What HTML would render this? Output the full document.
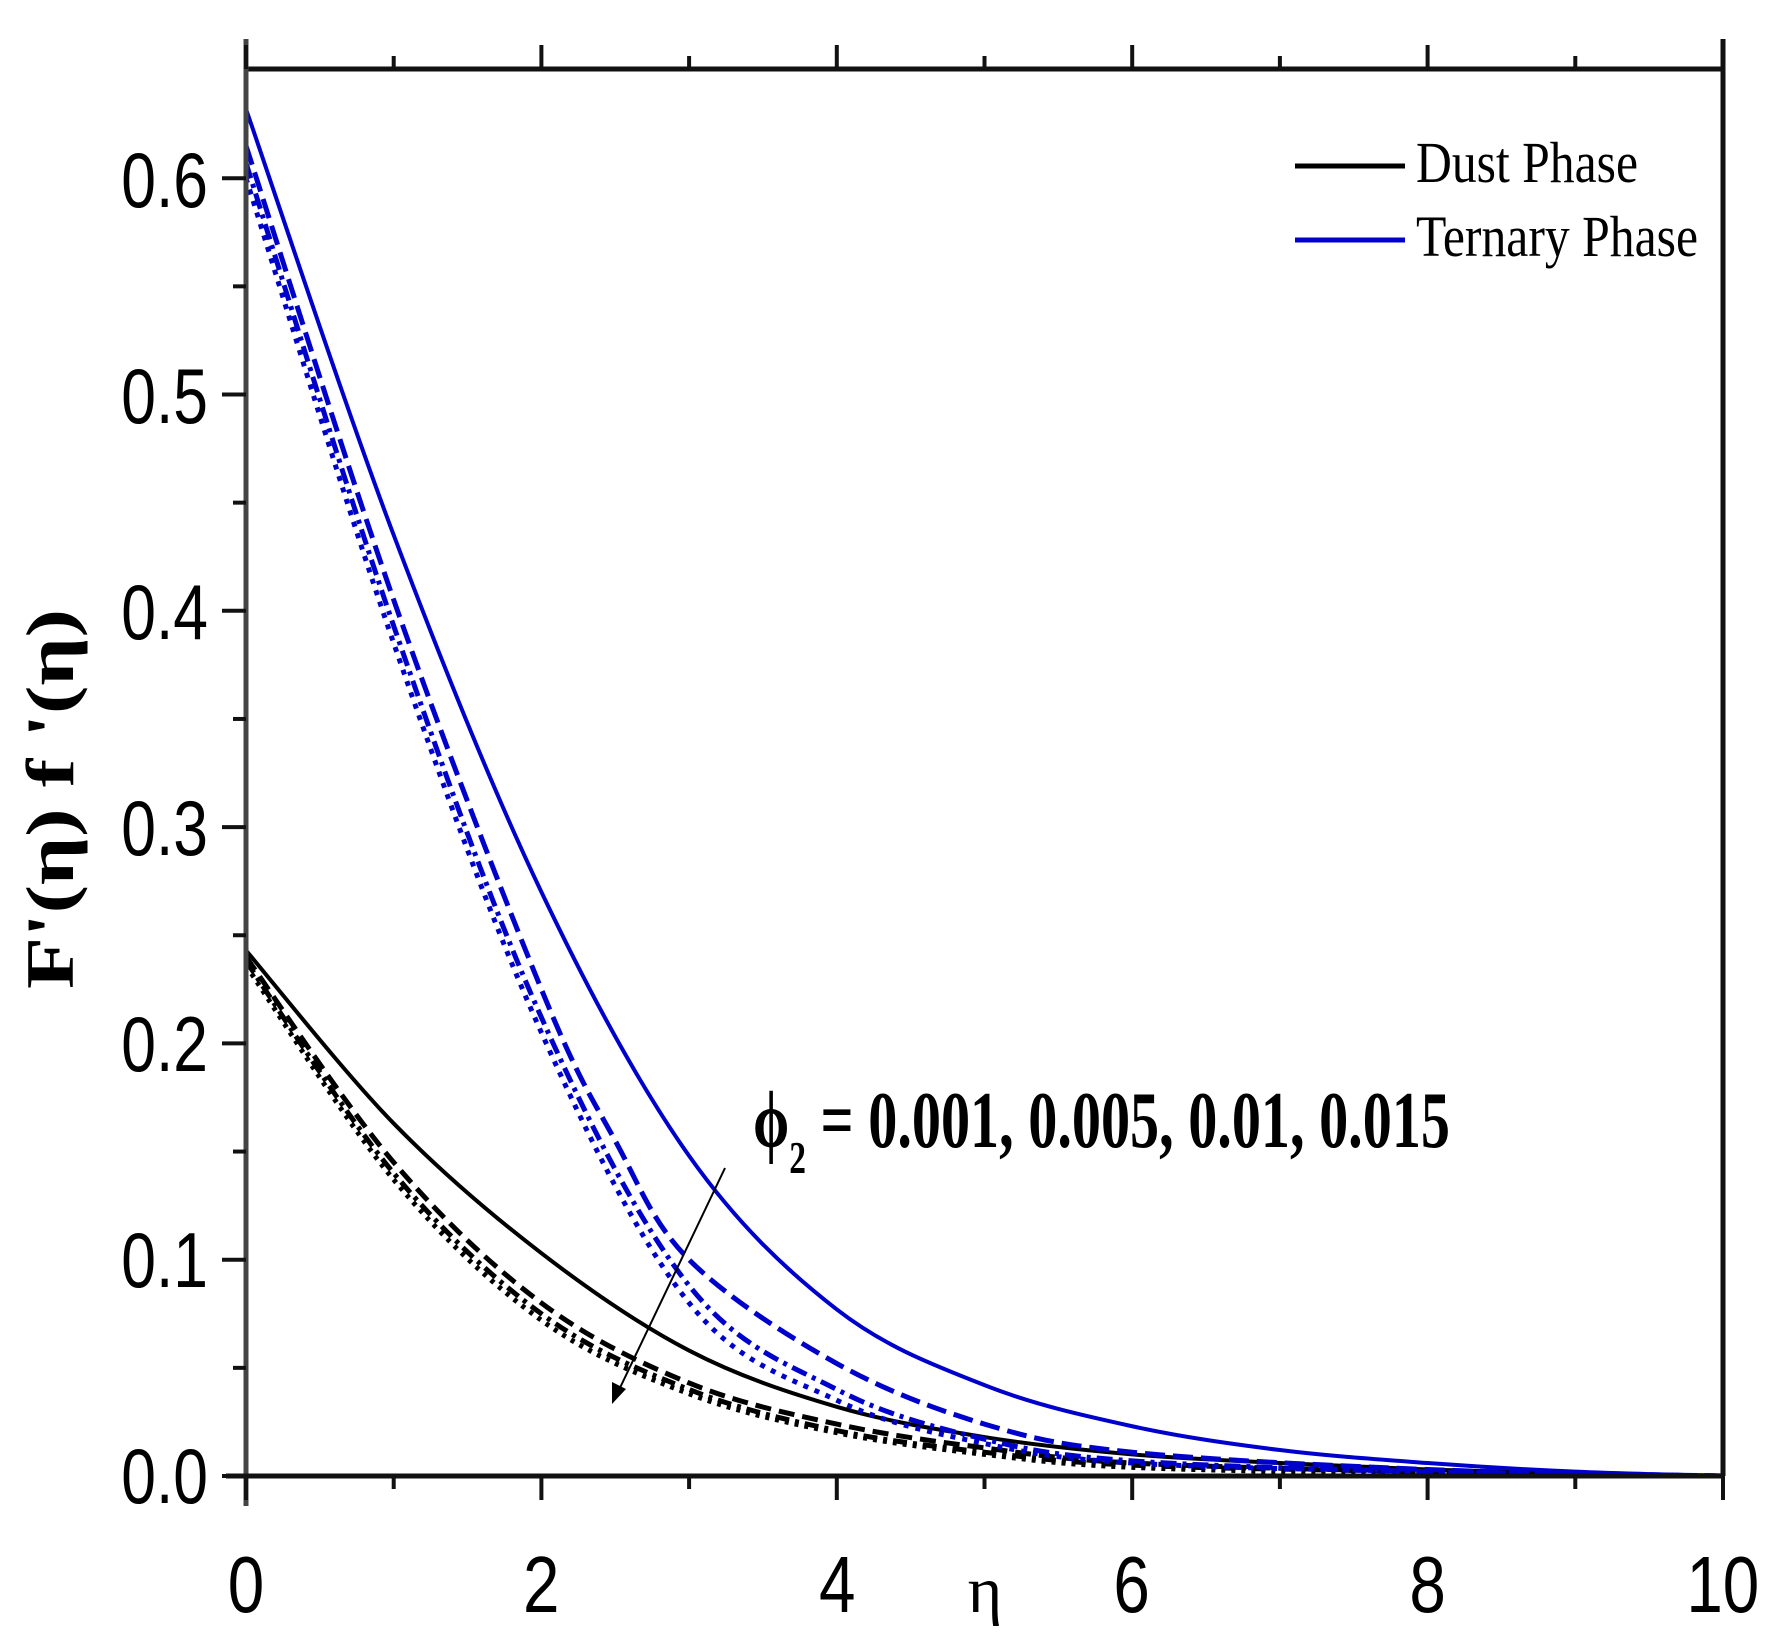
<!DOCTYPE html>
<html><head><meta charset="utf-8"><style>
html,body{margin:0;padding:0;background:#fff;}
svg{display:block;}
</style></head><body>
<svg id="s" width="1777" height="1640" xmlns="http://www.w3.org/2000/svg">
<rect width="1777" height="1640" fill="#fff"/>
<g id="curves" fill="none"></g>
<g stroke="#111" stroke-width="5" fill="none">
<line x1="246" y1="69" x2="1723" y2="69"/>
<line x1="1723" y1="39" x2="1723" y2="1476"/>
<line x1="246" y1="39" x2="246" y2="1506" stroke="#444"/>
<line x1="226" y1="1476" x2="1723" y2="1476"/>
</g>
<g id="ticks" stroke="#111" stroke-width="4"></g>
<g font-family="Liberation Sans, sans-serif" font-size="78" fill="#000" text-anchor="end" transform="scale(0.8,1)">
<text x="260" y="1503">0.0</text>
<text x="260" y="1287">0.1</text>
<text x="260" y="1071">0.2</text>
<text x="260" y="855">0.3</text>
<text x="260" y="639">0.4</text>
<text x="260" y="423">0.5</text>
<text x="260" y="207">0.6</text>
</g>
<g font-family="Liberation Sans, sans-serif" font-size="80" fill="#000" text-anchor="middle" transform="scale(0.82,1)">
<text x="300" y="1612">0</text>
<text x="660" y="1612">2</text>
<text x="1021" y="1612">4</text>
<text x="1380" y="1612">6</text>
<text x="1741" y="1612">8</text>
<text x="2101" y="1612">10</text>
</g>
<text x="985" y="1612" font-family="Liberation Serif, serif" font-size="66" text-anchor="middle">η</text>
<text transform="translate(73,799) rotate(-90)" font-family="Liberation Serif, serif" font-weight="bold" font-size="68" text-anchor="middle" textLength="380" lengthAdjust="spacingAndGlyphs">F'(η) f '(η)</text>
<g font-family="Liberation Serif, serif" font-size="58">
<line x1="1295" y1="166" x2="1405" y2="166" stroke="#000" stroke-width="5"/>
<text x="1416" y="182" textLength="222" lengthAdjust="spacingAndGlyphs">Dust Phase</text>
<line x1="1295" y1="240" x2="1405" y2="240" stroke="#0000cc" stroke-width="5"/>
<text x="1416" y="256" textLength="282" lengthAdjust="spacingAndGlyphs">Ternary Phase</text>
</g>
<text x="753" y="1147" font-family="Liberation Serif, serif" font-weight="bold" font-size="80" textLength="697" lengthAdjust="spacingAndGlyphs">ϕ<tspan font-size="46" dy="26">2</tspan><tspan dy="-26"> = 0.001, 0.005, 0.01, 0.015</tspan></text>
<line x1="725" y1="1168" x2="618" y2="1392" stroke="#000" stroke-width="2"/>
<polygon points="612,1404 612,1382 626,1389" fill="#000"/>
</svg>
<script>
var X=v=>246+v*147.7, Y=v=>1476-v*2163;
function path(pts){var p=pts.map(a=>[X(a[0]),Y(a[1])]);var d="M"+p[0][0]+","+p[0][1];
for(var i=0;i<p.length-1;i++){var p0=p[i-1]||p[i],p1=p[i],p2=p[i+1],p3=p[i+2]||p2;
d+=" C"+(p1[0]+(p2[0]-p0[0])/6)+","+(p1[1]+(p2[1]-p0[1])/6)+" "+(p2[0]-(p3[0]-p1[0])/6)+","+(p2[1]-(p3[1]-p1[1])/6)+" "+p2[0]+","+p2[1];}return d;}
var C=[
["#000",4,"",[[0,0.243],[1,0.163],[2,0.103],[3,0.058],[4,0.032],[5,0.018],[6,0.01],[7,0.006],[8,0.003],[9,0.001],[10,0]]],
["#000",5,"16 8",[[0,0.24],[1,0.145],[2,0.08],[3,0.043],[4,0.024],[5,0.013],[6,0.006],[8,0.002],[10,0]]],
["#000",5,"14 6 4 6",[[0,0.238],[1,0.14],[2,0.075],[3,0.04],[4,0.021],[5,0.011],[6,0.005],[8,0.002],[10,0]]],
["#000",5,"4 6",[[0,0.236],[1,0.137],[2,0.072],[3,0.038],[4,0.02],[5,0.01],[6,0.004],[8,0.001],[10,0]]],
["#0000cc",4,"",[[0,0.632],[1,0.435],[2,0.27],[3,0.148],[4,0.077],[5,0.042],[6,0.023],[7,0.012],[8,0.006],[9,0.002],[10,0]]],
["#0000cc",5,"20 8",[[0,0.615],[1,0.405],[2,0.225],[2.5,0.155],[3,0.1],[4,0.052],[5,0.024],[6,0.011],[8,0.003],[10,0]]],
["#0000cc",5,"16 6 4 6",[[0,0.607],[1,0.393],[2,0.212],[3,0.088],[4,0.04],[5,0.017],[6,0.007],[8,0.002],[10,0]]],
["#0000cc",5,"5 7",[[0,0.6],[1,0.385],[2,0.205],[3,0.08],[4,0.035],[5,0.015],[6,0.006],[8,0.002],[10,0]]]];
var g=document.getElementById("curves"),h="";
C.forEach(c=>{h+='<path d="'+path(c[3])+'" stroke="'+c[0]+'" stroke-width="'+c[1]+'"'+(c[2]?' stroke-dasharray="'+c[2]+'"':'')+'/>';});
g.innerHTML=h;
var t="";
for(var i=0;i<=10;i++){var x=X(i),L=i%2?13:24;t+='<line x1="'+x+'" y1="1476" x2="'+x+'" y2="'+(1476+L)+'"/><line x1="'+x+'" y1="69" x2="'+x+'" y2="'+(69-L)+'"/>';}
for(var j=0;j<=12;j++){var y=Y(j*0.05),L=j%2?13:24;t+='<line x1="246" y1="'+y+'" x2="'+(246-L)+'" y2="'+y+'"/>';}
document.getElementById("ticks").innerHTML=t;
</script>
</body></html>
